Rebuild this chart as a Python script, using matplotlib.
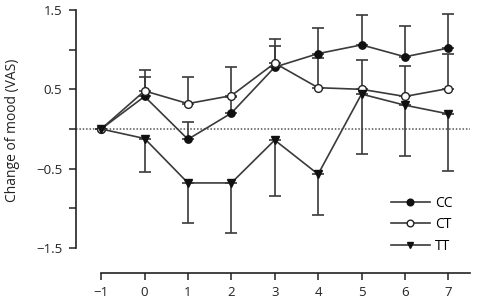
import matplotlib
matplotlib.use("Agg")
import matplotlib.pyplot as plt

plt.rcParams['font.family'] = ['Open Sans', 'DejaVu Sans']

days = [-1, 0, 1, 2, 3, 4, 5, 6, 7]
cc = [0.0, 0.41, -0.13, 0.20, 0.78, 0.95, 1.06, 0.91, 1.02]
cc_err = [0.0, 0.24, 0.22, 0.20, 0.26, 0.32, 0.38, 0.39, 0.43]
ct = [0.0, 0.48, 0.32, 0.42, 0.83, 0.52, 0.50, 0.41, 0.51]
ct_err = [0.0, 0.26, 0.33, 0.36, 0.31, 0.37, 0.37, 0.39, 0.44]
tt = [0.0, -0.12, -0.68, -0.68, -0.14, -0.57, 0.44, 0.30, 0.19]
tt_err = [0.0, 0.42, 0.50, 0.63, 0.70, 0.52, 0.76, 0.64, 0.72]
yticks = [-1.5, -1.0, -0.5, 0.0, 0.5, 1.0, 1.5]
ytick_labels = ['\u22121.5', '', '\u22120.5', '', '0.5', '', '1.5']
xtick_labels = ['\u22121', '0', '1', '2', '3', '4', '5', '6', '7']

fig = plt.figure(figsize=(4.78, 3.04), dpi=100)
ax = fig.add_axes([76/478, 1-273/304, 394/478, 267/304])
ax.set_xlim(-1.58, 7.5)
ax.set_ylim(-1.815, 1.55)

line_col = '#3a3a3a'
err_col = '#3a3a3a'

ax.axhline(0, color='#555555', linestyle=(0, (1, 1.2)), linewidth=1.1, zorder=1)

def zero_lower(e):
    return [0]*len(e)

ax.errorbar(days, cc, yerr=[zero_lower(cc_err), cc_err], fmt='none', ecolor=err_col,
            elinewidth=1.2, capsize=4, capthick=1.2, zorder=2)
ax.errorbar(days, ct, yerr=[zero_lower(ct_err), ct_err], fmt='none', ecolor=err_col,
            elinewidth=1.2, capsize=4, capthick=1.2, zorder=2)
ax.errorbar(days, tt, yerr=[tt_err, zero_lower(tt_err)], fmt='none', ecolor=err_col,
            elinewidth=1.2, capsize=4, capthick=1.2, zorder=2)

ax.plot(days, cc, color=line_col, lw=1.2, marker='o', ms=5.3, mfc='#111111', mec='#111111', zorder=4, label='CC')
ax.plot(days, ct, color=line_col, lw=1.2, marker='o', ms=5.6, mfc='white', mec='#222222', mew=1.0, zorder=4, label='CT')
ax.plot(days, tt, color=line_col, lw=1.2, marker='v', ms=6.2, mfc='#111111', mec='#111111', zorder=4, label='TT')

for s in ['top', 'right']:
    ax.spines[s].set_visible(False)
ax.spines['left'].set_bounds(-1.5, 1.5)
ax.spines['bottom'].set_bounds(-1, 7.5)
for s in ['left', 'bottom']:
    ax.spines[s].set_color('#222222')
    ax.spines[s].set_linewidth(1.2)

ax.set_yticks(yticks)
ax.set_yticklabels(ytick_labels)
ax.set_xticks(days)
ax.set_xticklabels(xtick_labels)
ax.tick_params(axis='both', labelsize=9.5, length=5, width=1.1, color='#222222', labelcolor='#222222')
ax.tick_params(axis='x', pad=4)
ax.tick_params(axis='y', pad=5)

ax.set_ylabel('Change of mood (VAS)', fontsize=10, color='#222222')
ax.yaxis.set_label_coords(13/478, 1 - 130/304, transform=fig.transFigure)
ax.yaxis.label.set_verticalalignment('center')

leg = ax.legend(loc='upper left', bbox_to_anchor=(391/478, 1 - 196/304), bbox_transform=fig.transFigure,
                frameon=False, fontsize=10, borderpad=0, borderaxespad=0,
                handlelength=2.8, handletextpad=0.35, labelspacing=0.45)
for h in leg.legend_handles:
    h.set_markersize(4.8)

fig.savefig('out.png', dpi=100)
